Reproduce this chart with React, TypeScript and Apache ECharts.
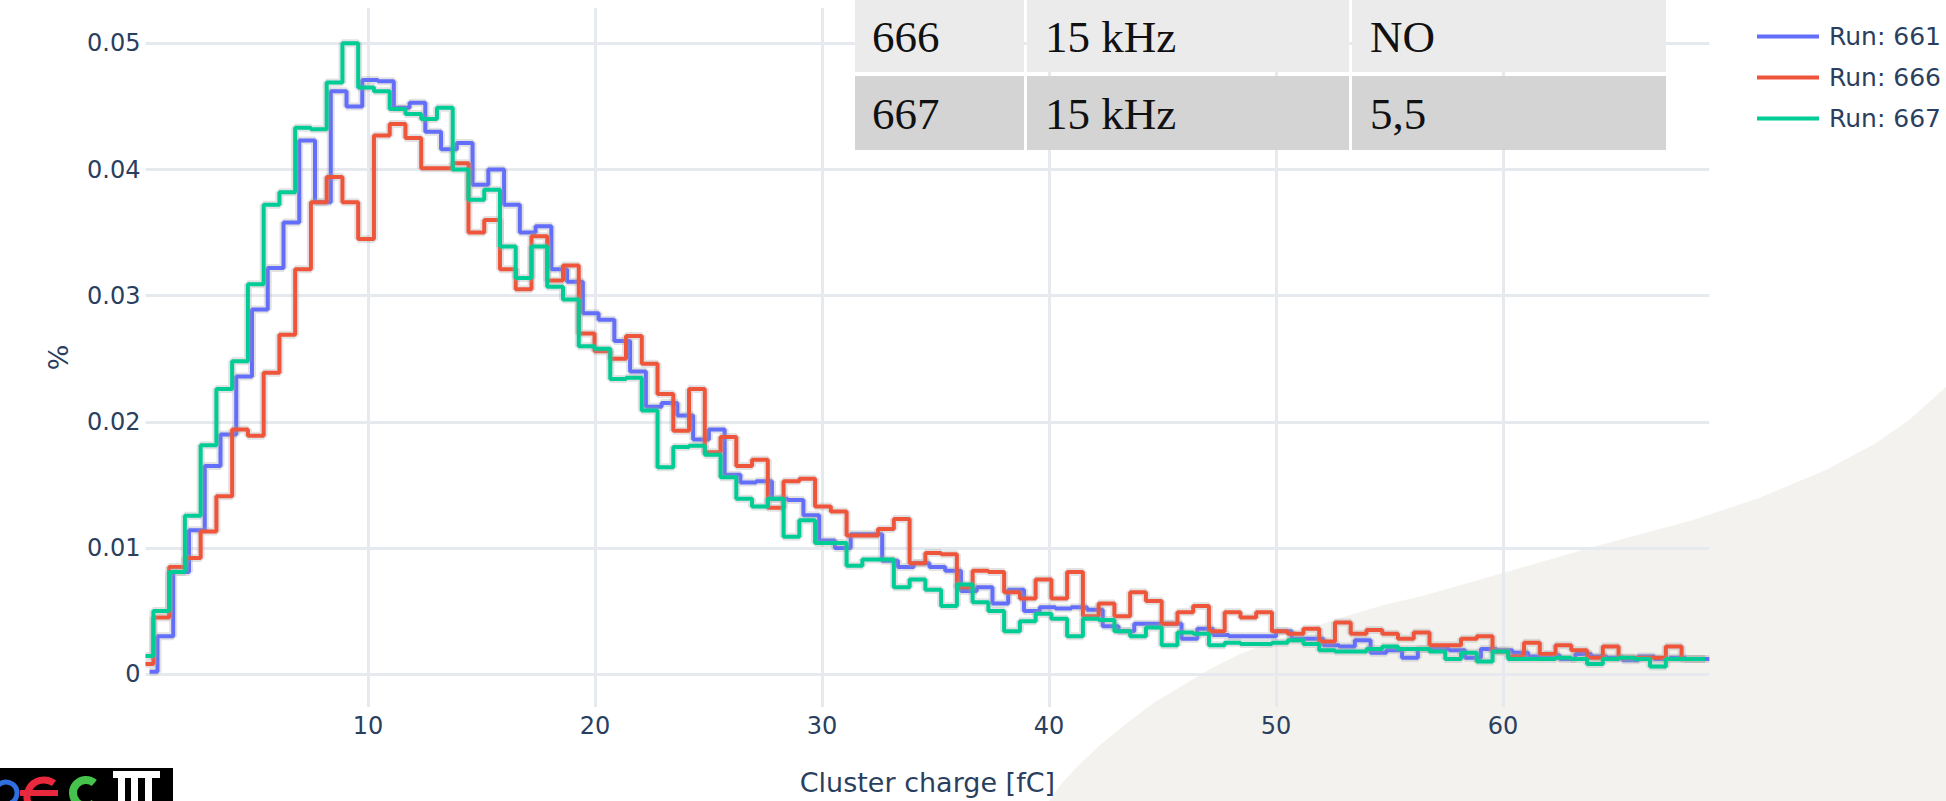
import React, { useEffect, useRef } from "react";
import * as echarts from "echarts";

// ---- histogram layout (bin centres) ----
const BIN_WIDTH = 0.694;
const FIRST_CENTER_661 = 0.38;
const FIRST_CENTER_666_667 = 0.2;

const RUN_NAMES = ["Run: 661", "Run: 666", "Run: 667"];
const RUN_COLORS = ["#636efa", "#ef553b", "#00cc96"];

// ---- values (fraction per bin) ----
const run661 = [
  0.0002, 0.003, 0.0081, 0.0114, 0.0165, 0.019, 0.0236, 0.0289, 0.0322, 0.0358,
  0.0423, 0.0374, 0.0462, 0.045, 0.0471, 0.047, 0.0449, 0.0453, 0.043, 0.0416,
  0.0421, 0.0388, 0.04, 0.0372, 0.035, 0.0355, 0.0321, 0.0311, 0.0286, 0.0281,
  0.0264, 0.024, 0.0212, 0.0215, 0.0205, 0.0186, 0.0194, 0.0158, 0.0152, 0.0153,
  0.0139, 0.0138, 0.0126, 0.0106, 0.01, 0.0111, 0.0111, 0.009, 0.0085, 0.0088,
  0.0085, 0.0082, 0.0066, 0.0069, 0.0056, 0.0067, 0.005, 0.0053, 0.0052, 0.0053,
  0.0051, 0.0038, 0.0034, 0.004, 0.004, 0.004, 0.0028, 0.0036, 0.0031, 0.003,
  0.003, 0.003, 0.0034, 0.0028, 0.0028, 0.0023, 0.0022, 0.0027, 0.0017, 0.0019,
  0.0013, 0.002, 0.002, 0.0019, 0.0013, 0.002, 0.0019, 0.0017, 0.0014, 0.0015,
  0.0012, 0.0016, 0.0014, 0.0013, 0.0011, 0.0014, 0.0012, 0.0013, 0.0012, 0.0012,
];

const run666 = [
  0.0008, 0.0045, 0.0085, 0.0092, 0.0113, 0.0141, 0.0194, 0.0189, 0.0239, 0.0269,
  0.0321, 0.0374, 0.0394, 0.0374, 0.0345, 0.0427, 0.0436, 0.0425, 0.0401, 0.0401,
  0.0405, 0.035, 0.036, 0.0321, 0.0305, 0.0347, 0.0312, 0.0324, 0.027, 0.0256,
  0.025, 0.0268, 0.0246, 0.0222, 0.0193, 0.0226, 0.0176, 0.0188, 0.0165, 0.017,
  0.0132, 0.0153, 0.0155, 0.0133, 0.0129, 0.011, 0.011, 0.0115, 0.0123, 0.0088,
  0.0096, 0.0095, 0.0069, 0.0082, 0.0081, 0.0065, 0.006, 0.0075, 0.006, 0.0081,
  0.0046, 0.0056, 0.0046, 0.0065, 0.0058, 0.004, 0.0049, 0.0054, 0.0034, 0.0049,
  0.0045, 0.0049, 0.0034, 0.0032, 0.0036, 0.0026, 0.0041, 0.0032, 0.0035, 0.0032,
  0.0028, 0.0033, 0.0023, 0.0023, 0.0028, 0.003, 0.0018, 0.0014, 0.0025, 0.0016,
  0.0023, 0.0019, 0.0013, 0.0022, 0.0013, 0.0013, 0.0013, 0.0022, 0.0012, 0.0012,
];

const run667 = [
  0.00145, 0.005, 0.0081, 0.01255, 0.01815, 0.0226, 0.0248, 0.0309, 0.0372, 0.0382,
  0.0433, 0.0432, 0.0469, 0.05, 0.0465, 0.0462, 0.0448, 0.0444, 0.044, 0.0449,
  0.04, 0.0376, 0.0384, 0.0339, 0.0314, 0.0339, 0.0307, 0.0297, 0.026, 0.0258,
  0.0234, 0.0235, 0.0209, 0.0164, 0.018, 0.0181, 0.0174, 0.0156, 0.0139, 0.0133,
  0.0139, 0.0109, 0.0122, 0.0104, 0.0104, 0.0086, 0.0091, 0.0091, 0.0069, 0.0075,
  0.0067, 0.0054, 0.0071, 0.0057, 0.005, 0.0034, 0.0042, 0.0048, 0.0044, 0.003,
  0.0044, 0.0043, 0.0034, 0.003, 0.0037, 0.0023, 0.0033, 0.0032, 0.0023, 0.0025,
  0.0024, 0.0024, 0.0025, 0.0027, 0.0024, 0.0019, 0.0018, 0.0018, 0.002, 0.0022,
  0.002, 0.002, 0.0018, 0.0012, 0.0017, 0.001, 0.0018, 0.0012, 0.0012, 0.0012,
  0.0013, 0.0012, 0.0008, 0.0012, 0.0013, 0.0012, 0.0006, 0.0012, 0.0012, 0.0012,
];

const X_TITLE = "Cluster charge [fC]";
const Y_TITLE = "%";

// overlay table (slide content)
const TABLE_RUNS = ["666", "667"];
const TABLE_RATES = ["15 kHz", "15 kHz"];
const TABLE_THIRD = ["NO", "5,5"];

const FONT = "'DejaVu Sans', Verdana, sans-serif";
const TEXT_COLOR = "#2a3f5f";
const GRID_COLOR = "#e6e9ee";

function toPoints(values: number[], first: number): [number, number][] {
  return values.map((v, i) => [first + i * BIN_WIDTH, v]);
}

export default function App() {
  const ref = useRef<HTMLDivElement>(null);

  useEffect(() => {
    if (!ref.current) return;
    const chart = echarts.init(ref.current, undefined, { renderer: "svg" });

    const datasets = [
      toPoints(run661, FIRST_CENTER_661),
      toPoints(run666, FIRST_CENTER_666_667),
      toPoints(run667, FIRST_CENTER_666_667),
    ];
    const xMin = Math.min(...datasets.map((d) => d[0][0]));
    const xMax = Math.max(...datasets.map((d) => d[d.length - 1][0]));

    const series: any[] = [];
    datasets.forEach((data, k) => {
      series.push({
        type: "line",
        name: "halo" + k,
        data,
        step: "middle",
        symbol: "none",
        showSymbol: false,
        silent: true,
        z: 2 + k * 2,
        lineStyle: { color: "rgba(160,160,160,0.30)", width: 8 },
        emphasis: { disabled: true },
      });
      series.push({
        type: "line",
        name: RUN_NAMES[k],
        data,
        step: "middle",
        symbol: "none",
        showSymbol: false,
        silent: true,
        z: 3 + k * 2,
        itemStyle: { color: RUN_COLORS[k] },
        lineStyle: { color: RUN_COLORS[k], width: 4 },
        emphasis: { disabled: true },
      });
    });

    const colX = [855, 1027, 1352];
    const colW = [169, 322, 314];
    const rowY = [0, 76];
    const rowH = [72, 74];
    const rowFill = ["#ebebeb", "#d4d4d4"];
    const textPad = [17, 18, 18];
    const tableEls: any[] = [];
    const cols = [TABLE_RUNS, TABLE_RATES, TABLE_THIRD];
    rowY.forEach((ry, r) => {
      colX.forEach((cx, c) => {
        tableEls.push({
          type: "rect",
          z: 100,
          shape: { x: cx, y: ry, width: colW[c], height: rowH[r] },
          style: { fill: rowFill[r] },
        });
        tableEls.push({
          type: "text",
          z: 101,
          x: cx + textPad[c],
          y: ry + rowH[r] / 2 + 1,
          style: {
            text: cols[c][r],
            font: "45px 'Liberation Serif', 'DejaVu Serif', serif",
            fill: "#111",
            verticalAlign: "middle",
            align: "left",
          },
        });
      });
    });

    const logo: any[] = [
      { type: "rect", z: 100, shape: { x: 0, y: 768, width: 173, height: 33 }, style: { fill: "#000" } },
      {
        type: "arc", z: 101,
        shape: { cx: 6, cy: 793, r: 11, startAngle: -Math.PI * 0.95, endAngle: Math.PI * 0.35, clockwise: true },
        style: { stroke: "#2f6fe0", lineWidth: 5, fill: "none" },
      },
      {
        type: "arc", z: 102,
        shape: { cx: 44, cy: 797, r: 17, startAngle: -Math.PI * 0.3, endAngle: Math.PI * 0.6, clockwise: false },
        style: { stroke: "#e8283c", lineWidth: 7, fill: "none" },
      },
      { type: "rect", z: 102, shape: { x: 20, y: 790, width: 38, height: 6 }, style: { fill: "#e8283c" } },
      {
        type: "arc", z: 101,
        shape: { cx: 86, cy: 793, r: 13, startAngle: -Math.PI * 0.28, endAngle: Math.PI * 0.28, clockwise: false },
        style: { stroke: "#46c34c", lineWidth: 8, fill: "none" },
      },
      { type: "rect", z: 101, shape: { x: 113, y: 771, width: 47, height: 7 }, style: { fill: "#fff" } },
      { type: "rect", z: 101, shape: { x: 118, y: 777, width: 7, height: 24 }, style: { fill: "#fff" } },
      { type: "rect", z: 101, shape: { x: 131, y: 777, width: 7, height: 24 }, style: { fill: "#fff" } },
      { type: "rect", z: 101, shape: { x: 145, y: 777, width: 7, height: 24 }, style: { fill: "#fff" } },
    ];

    const backdrop = {
      type: "polygon",
      z: -100,
      silent: true,
      shape: {
        points: [
          [1049, 801], [1062, 783], [1078, 766], [1100, 745], [1127, 723],
          [1155, 702], [1185, 684], [1212, 668], [1240, 654], [1290, 635],
          [1337, 619], [1380, 606], [1426, 595], [1503, 573], [1593, 547],
          [1693, 520], [1759, 498], [1826, 470], [1876, 443], [1909, 420],
          [1946, 387], [1946, 801],
        ],
      },
      style: { fill: "#f3f2ef" },
    };

    chart.setOption({
      animation: false,
      backgroundColor: "transparent",
      grid: { left: 145.5, right: 1946 - 1709.3, top: 8, bottom: 93 },
      legend: {
        data: RUN_NAMES,
        orient: "vertical",
        left: 1752,
        top: 19,
        icon: "rect",
        itemWidth: 62,
        itemHeight: 4,
        itemGap: 16,
        selectedMode: false,
        textStyle: { fontFamily: FONT, fontSize: 25, color: TEXT_COLOR, padding: [0, 0, 0, 5] },
      },
      xAxis: {
        type: "value",
        min: xMin,
        max: xMax,
        axisLine: { show: false },
        axisTick: { show: false },
        splitLine: { show: true, showMinLine: false, showMaxLine: false, lineStyle: { color: GRID_COLOR, width: 3 } },
        axisLabel: {
          showMinLabel: false,
          showMaxLabel: false,
          fontFamily: FONT,
          fontSize: 24,
          color: TEXT_COLOR,
          margin: 7,
        },
        name: X_TITLE,
        nameLocation: "middle",
        nameGap: 62,
        nameTextStyle: { fontFamily: FONT, fontSize: 27, color: TEXT_COLOR },
      },
      yAxis: {
        type: "value",
        min: -0.0026,
        max: 0.0528,
        axisLine: { show: false },
        axisTick: { show: false },
        splitLine: { show: true, showMinLine: false, showMaxLine: false, lineStyle: { color: GRID_COLOR, width: 3 } },
        axisLabel: {
          showMinLabel: false,
          showMaxLabel: false,
          fontFamily: FONT,
          fontSize: 24,
          color: TEXT_COLOR,
          margin: 5,
        },
        name: Y_TITLE,
        nameLocation: "middle",
        nameGap: 74,
        nameRotate: 90,
        nameTextStyle: { fontFamily: FONT, fontSize: 27, color: TEXT_COLOR },
      },
      series,
      graphic: [backdrop, ...tableEls, ...logo],
    });

    return () => chart.dispose();
  }, []);

  return (
    <div
      ref={ref}
      style={{ position: "absolute", left: 0, top: 0, width: 1946, height: 801, background: "#fff" }}
    />
  );
}
